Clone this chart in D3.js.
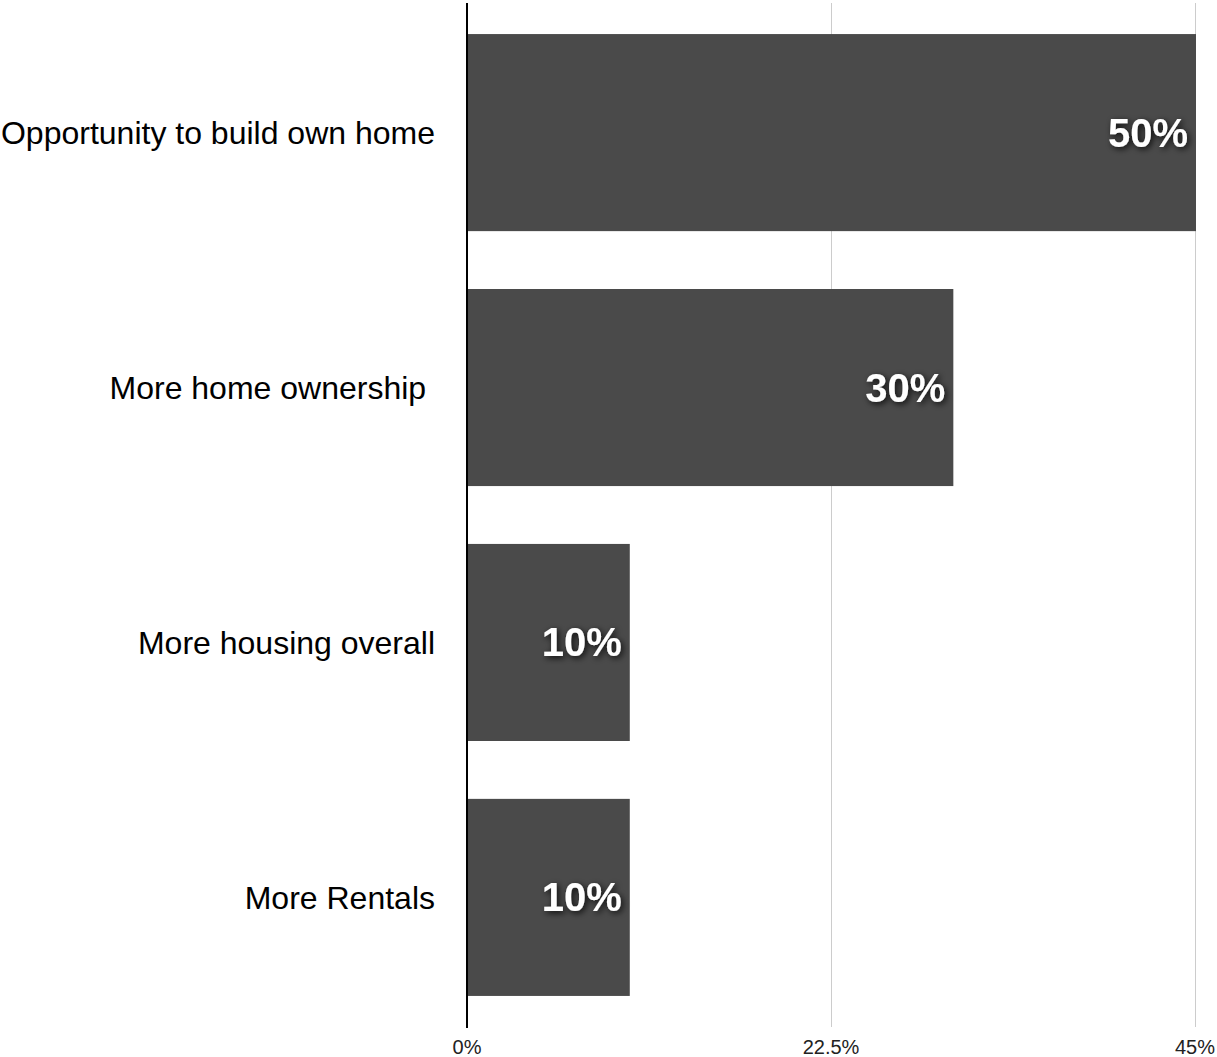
<!DOCTYPE html>
<html>
<head>
<meta charset="utf-8">
<script src="https://cdn.jsdelivr.net/npm/d3@7"></script>
<style>
  html, body { margin: 0; padding: 0; background: #fff; }
  svg { display: block; }
  .cat { white-space: pre; }
</style>
</head>
<body>
<svg id="chart" width="1217" height="1057"></svg>
<script>
const categories = ["Opportunity to build own home", "More home ownership ", "More housing overall", "More Rentals"];
const values = [50, 30, 10, 10];
const valueLabels = ["50%", "30%", "10%", "10%"];
const tickValues = [0, 22.5, 45];
const tickLabels = ["0%", "22.5%", "45%"];

const svg = d3.select("#chart");
const defs = svg.append("defs");
const f = defs.append("filter").attr("id", "shadow").attr("x", "-20%").attr("y", "-30%").attr("width", "150%").attr("height", "170%");
f.append("feDropShadow").attr("dx", 2).attr("dy", 2).attr("stdDeviation", 3).attr("flood-color", "#000").attr("flood-opacity", 0.85);

const x = d3.scaleLinear().domain([0, 45]).range([467, 1195]).clamp(true);
const y = d3.scaleBand().domain(categories).range([5, 1025]).paddingInner(0.227).paddingOuter(0.114);

// gridlines
svg.append("g").selectAll("line").data(tickValues.slice(1)).join("line")
  .attr("x1", d => Math.round(x(d)) + 0.5).attr("x2", d => Math.round(x(d)) + 0.5)
  .attr("y1", 3).attr("y2", 1027)
  .attr("stroke", "#cccccc").attr("stroke-width", 1);

// bars
svg.append("g").selectAll("rect").data(categories).join("rect")
  .attr("x", x(0) + 1)
  .attr("y", d => y(d))
  .attr("width", (d, i) => x(values[i]) - x(0))
  .attr("height", y.bandwidth())
  .attr("fill", "#4a4a4a");

// axis line
svg.append("line").attr("x1", 467).attr("x2", 467).attr("y1", 3).attr("y2", 1028)
  .attr("stroke", "#000").attr("stroke-width", 2);

// category labels
svg.append("g").selectAll("text").data(categories).join("text")
  .attr("class", "cat")
  .attr("x", 435)
  .attr("y", d => y(d) + y.bandwidth() / 2)
  .attr("dy", "0.35em")
  .attr("text-anchor", "end")
  .attr("font-family", "Liberation Sans, Arial, sans-serif")
  .attr("font-size", 32)
  .attr("fill", "#000")
  .text(d => d);

// value labels
svg.append("g").selectAll("text").data(categories).join("text")
  .attr("x", (d, i) => x(values[i]) - 7)
  .attr("y", (d, i) => y(d) + y.bandwidth() / 2)
  .attr("dy", "0.35em")
  .attr("text-anchor", "end")
  .attr("font-family", "Liberation Sans, Arial, sans-serif")
  .attr("font-weight", "bold")
  .attr("font-size", 40)
  .attr("fill", "#fff")
  .attr("filter", "url(#shadow)")
  .text((d, i) => valueLabels[i]);

// tick labels
svg.append("g").selectAll("text").data(tickValues).join("text")
  .attr("x", d => x(d))
  .attr("y", 1054)
  .attr("text-anchor", "middle")
  .attr("font-family", "Liberation Sans, Arial, sans-serif")
  .attr("font-size", 20)
  .attr("fill", "#222")
  .text((d, i) => tickLabels[i]);
</script>
</body>
</html>
